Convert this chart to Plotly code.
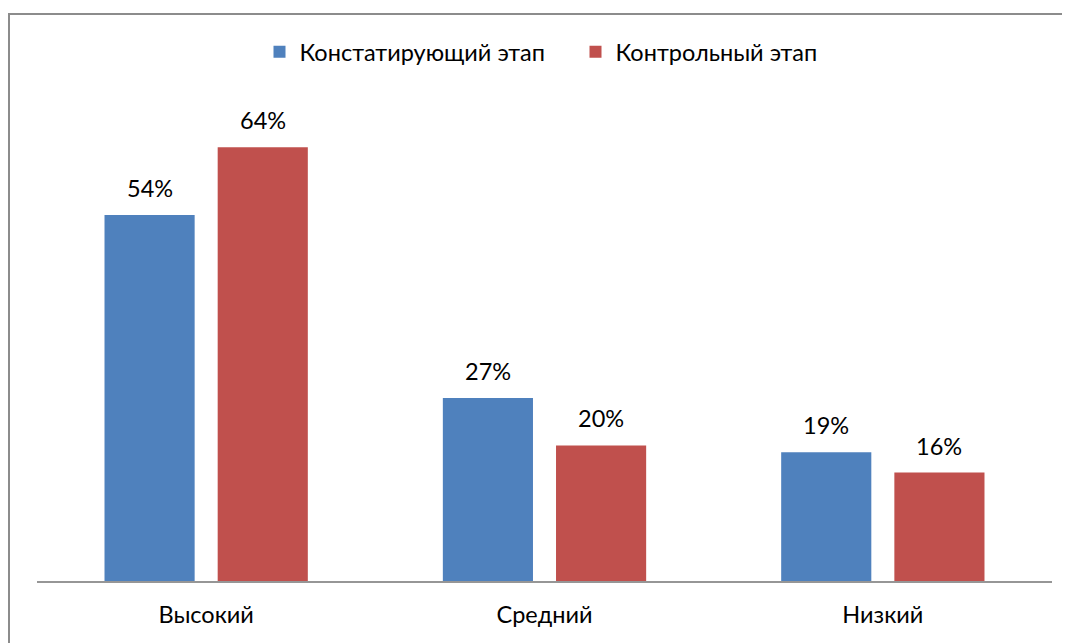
import plotly.graph_objects as go

categories = ["Высокий", "Средний", "Низкий"]
series_names = ["Констатирующий этап", "Контрольный этап"]
stage1 = [54, 27, 19]
stage2 = [64, 20, 16]
colors = ["#4F81BD", "#C0504D"]

FONT = "Lato, 'Open Sans', sans-serif"
FS = 23.5

fig = go.Figure()
for name, vals, col in zip(series_names, [stage1, stage2], colors):
    fig.add_trace(go.Bar(x=categories, y=vals, name=name, marker=dict(color=col, line=dict(width=0)),
                         hoverinfo="skip"))

# data labels
annotations = []
for vals, shift in [(stage1, -56.5), (stage2, 56.5)]:
    for c, v in zip(categories, vals):
        annotations.append(dict(x=c, y=v, xref="x", yref="y", text=f"{v}%", showarrow=False,
                                xshift=shift, yshift=27, font=dict(family=FONT, size=FS, color="#000")))

W, H = 1070, 643
ml, mr, mt, mb = 29, 26, 85, 70
pw, ph = W - ml - mr, H - mt - mb

def px_x(p):
    return (p - ml) / pw

def px_y(p):
    return (H - mb - p) / ph

fig.update_layout(
    width=W, height=H,
    margin=dict(l=ml, r=mr, t=mt, b=mb, autoexpand=False),
    paper_bgcolor="white", plot_bgcolor="white",
    barmode="group", bargap=0.331, bargroupgap=0.2035,
    font=dict(family=FONT, size=FS, color="#000"),
    showlegend=True,
    legend=dict(orientation="h", x=px_x(251.5), xanchor="left", y=px_y(44), yanchor="middle",
                font=dict(family=FONT, size=FS), itemwidth=30, traceorder="normal",
                entrywidth=271, entrywidthmode="pixels",
                bgcolor="rgba(0,0,0,0)"),
    annotations=annotations,
    shapes=[dict(type="rect", xref="paper", yref="paper",
                 x0=px_x(1), x1=px_x(1080), y0=px_y(6), y1=px_y(660),
                 line=dict(color="#8c8c8c", width=2), fillcolor="rgba(0,0,0,0)", layer="below")],
)
fig.update_xaxes(showline=True, linecolor="#969696", linewidth=2, showgrid=False, zeroline=False,
                 ticks="", ticklabelstandoff=12, tickfont=dict(family=FONT, size=FS))
fig.update_yaxes(range=[0, 72], visible=False, showgrid=False, zeroline=False)

fig.write_html("out.html")
